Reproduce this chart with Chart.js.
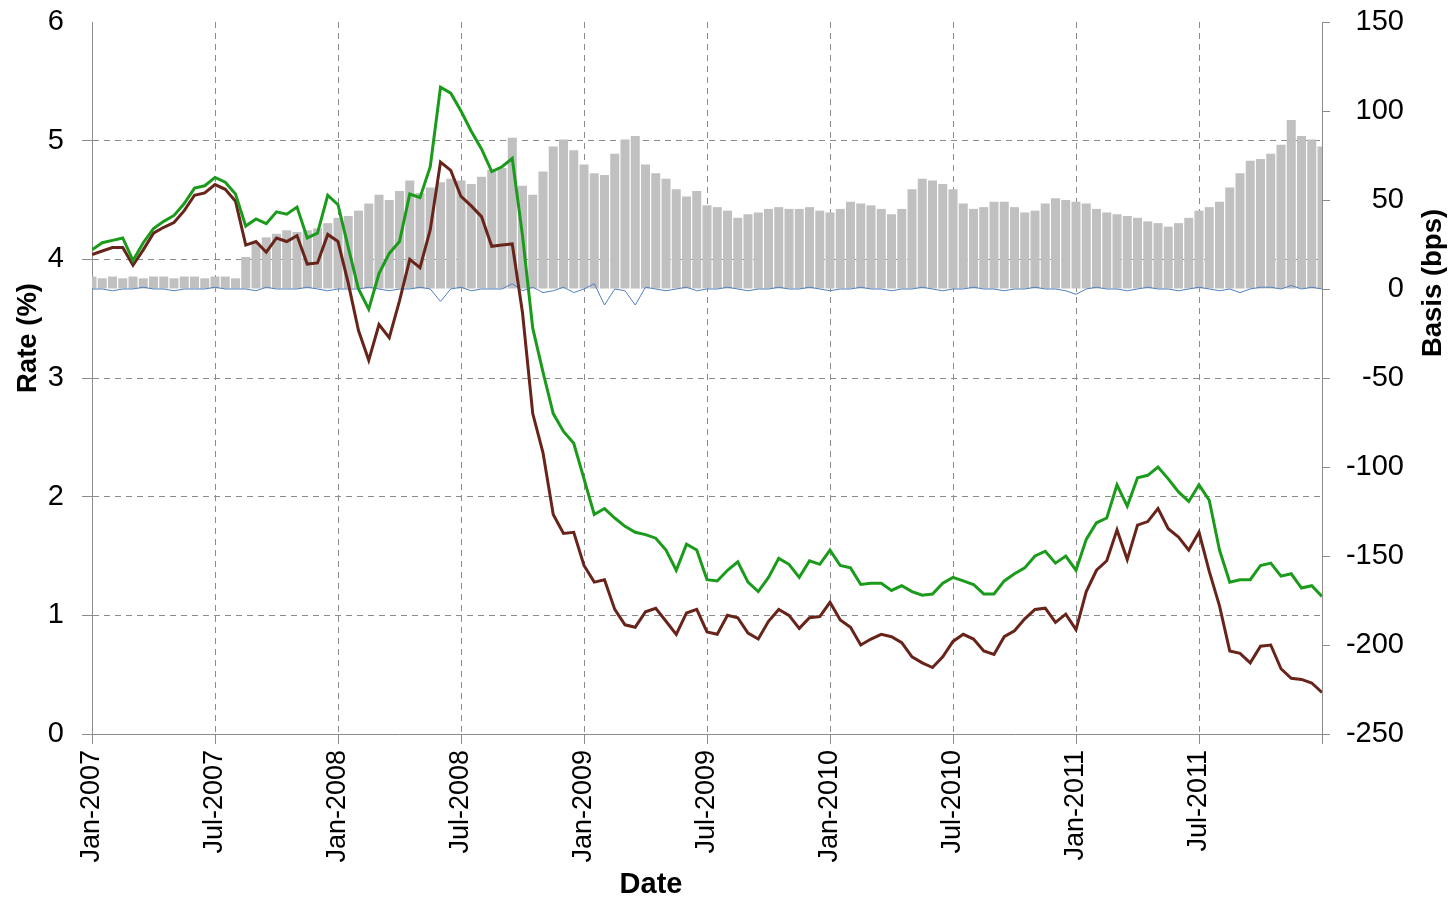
<!DOCTYPE html>
<html>
<head>
<meta charset="utf-8">
<script src="https://cdn.jsdelivr.net/npm/chart.js@4"></script>
<style>
  html, body { margin: 0; padding: 0; background: #fff; }
  canvas { display: block; }
</style>
</head>
<body>
<canvas id="chart" width="1454" height="899"></canvas>
<script>
// x labels every 6 months, x values are months since Jan-2007 (half-month steps)
const tickLabels = ["Jan-2007", "Jul-2007", "Jan-2008", "Jul-2008", "Jan-2009",
  "Jul-2009", "Jan-2010", "Jul-2010", "Jan-2011", "Jul-2011"];
const months = [];
for (let i = 0; i <= 120; i++) months.push(i / 2);

// rate (%) - green series
const green = [
  4.08, 4.14, 4.16, 4.18, 3.99, 4.14, 4.26, 4.32, 4.37, 4.47,
  4.60, 4.62, 4.69, 4.65, 4.55, 4.28, 4.34, 4.30, 4.40, 4.38,
  4.44, 4.18, 4.22, 4.54, 4.46, 4.10, 3.75, 3.58, 3.88, 4.05,
  4.15, 4.55, 4.52, 4.78, 5.45, 5.40, 5.25, 5.08, 4.93, 4.74,
  4.78, 4.85, 4.20, 3.42, 3.05, 2.70, 2.55, 2.45, 2.15, 1.85,
  1.90, 1.82, 1.75, 1.70, 1.68, 1.65, 1.55, 1.38, 1.60, 1.55,
  1.30, 1.29, 1.38, 1.45, 1.28, 1.20, 1.32, 1.48, 1.43, 1.32,
  1.46, 1.43, 1.55, 1.42, 1.40, 1.26, 1.27, 1.27, 1.21, 1.25,
  1.20, 1.17, 1.18, 1.27, 1.32, 1.29, 1.26, 1.18, 1.18, 1.29,
  1.35, 1.40, 1.50, 1.54, 1.44, 1.50, 1.38, 1.64, 1.78, 1.82,
  2.10, 1.92, 2.16, 2.18, 2.25, 2.15, 2.04, 1.96, 2.10, 1.97,
  1.55, 1.28, 1.30, 1.30, 1.42, 1.44, 1.33, 1.35, 1.23, 1.25,
  1.16
];

// rate (%) - brown series
const brown = [
  4.04, 4.07, 4.10, 4.10, 3.95, 4.08, 4.22, 4.27, 4.31, 4.41,
  4.54, 4.56, 4.63, 4.59, 4.49, 4.12, 4.15, 4.06, 4.18, 4.15,
  4.20, 3.96, 3.97, 4.21, 4.15, 3.80, 3.40, 3.15, 3.45, 3.34,
  3.65, 4.00, 3.93, 4.25, 4.82, 4.75, 4.53, 4.45, 4.36, 4.11,
  4.12, 4.13, 3.55, 2.70, 2.37, 1.85, 1.69, 1.70, 1.42, 1.28,
  1.30, 1.05, 0.92, 0.90, 1.03, 1.06, 0.95, 0.84, 1.02, 1.05,
  0.86, 0.84, 1.00, 0.98, 0.85, 0.80, 0.95, 1.05, 1.00, 0.89,
  0.98, 0.99, 1.11, 0.96, 0.90, 0.75, 0.80, 0.84, 0.82, 0.77,
  0.65, 0.60, 0.56, 0.65, 0.78, 0.84, 0.80, 0.70, 0.67, 0.82,
  0.87, 0.97, 1.05, 1.06, 0.94, 1.01, 0.88, 1.20, 1.38, 1.46,
  1.72, 1.47, 1.76, 1.79, 1.90, 1.73, 1.66, 1.55, 1.70, 1.37,
  1.08, 0.70, 0.68, 0.60, 0.74, 0.75, 0.55, 0.47, 0.46, 0.43,
  0.35
];

// basis (bps) - grey bars
const basis = [
  7, 6, 7, 6, 7, 6, 7, 7, 6, 7,
  7, 6, 7, 7, 6, 18, 26, 29, 31, 33,
  32, 33, 34, 37, 40, 41, 44, 48, 53, 50,
  55, 61, 54, 57, 60, 62, 61, 59, 63, 67,
  68, 85, 58, 53, 66, 80, 84, 78, 70, 65,
  64, 76, 84, 86, 70, 65, 62, 56, 52, 55,
  47, 46, 44, 40, 42, 43, 45, 46, 45, 45,
  46, 44, 43, 45, 49, 48, 47, 45, 42, 45,
  56, 62, 61, 59, 56, 48, 45, 46, 49, 49,
  46, 43, 44, 48, 51, 50, 49, 48, 45, 43,
  42, 41, 40, 38, 37, 35, 37, 40, 44, 46,
  49, 57, 65, 72, 73, 76, 81, 95, 86, 84,
  80
];

// basis (bps) - thin blue line around zero
const blue = [
  0, 0, -1, 0, 0, 1, 0, 0, -1, 0,
  0, 0, 1, 0, 0, 0, -1, 1, 0, 0,
  0, 1, 0, -1, 0, 0, 0, 1, 0, -1,
  0, 0, 1, 0, -7, 0, 1, -1, 0, 0,
  0, 3, -1, 1, -2, -1, 1, -2, 0, 3,
  -9, 0, -1, -9, 1, 0, -1, 0, 1, -1,
  0, 0, 1, 0, -1, 0, 0, 1, 0, 0,
  1, 0, -1, 0, 0, 1, 0, 0, -1, 0,
  0, 1, 0, -1, 0, 0, 1, 0, 0, -1,
  0, 0, 1, 0, 0, -1, -3, 0, 1, 0,
  0, -1, 0, 1, 0, 0, -1, 0, 1, 0,
  -1, 0, -2, 0, 1, 1, 0, 2, 0, 1,
  0
];

const FONT = "'Liberation Sans', Arial, sans-serif";
Chart.defaults.font.family = FONT;
Chart.defaults.font.size = 29;
Chart.defaults.color = "#000";

function pts(arr) {
  return months.map((m, i) => ({ x: m, y: arr[i] }));
}

// axis titles are not centred on the plot in the original, so draw them by hand
const axisTitles = {
  id: "axisTitles",
  afterDraw(chart) {
    const c = chart.ctx;
    c.save();
    c.fillStyle = "#000";
    c.textAlign = "center";
    c.textBaseline = "middle";
    c.font = "bold 29px " + FONT;
    c.fillText("Date", 651, 885);
    c.font = "bold 27.5px " + FONT;
    [["Rate (%)", 28, 338], ["Basis (bps)", 1433, 283]].forEach(([t, x, y]) => {
      c.save();
      c.translate(x, y);
      c.rotate(-Math.PI / 2);
      c.fillText(t, 0, 0);
      c.restore();
    });
    c.restore();
  }
};

const gridColor = "#8c8c8c";

// fixed axis sizes so the plot area sits where it does in the original
function fixY(width) {
  return s => { s.width = width; s.paddingTop = 0; s.paddingBottom = 0; };
}

new Chart(document.getElementById("chart").getContext("2d"), {
  type: "bar",
  data: {
    datasets: [
      { type: "line", label: "Green", data: pts(green), yAxisID: "y",
        borderColor: "#1b9b1b", borderWidth: 3, pointRadius: 0, order: 1 },
      { type: "line", label: "Brown", data: pts(brown), yAxisID: "y",
        borderColor: "#68241a", borderWidth: 3, pointRadius: 0, order: 2 },
      { type: "line", label: "Blue", data: pts(blue), yAxisID: "y2",
        borderColor: "#4f81bd", borderWidth: 1, pointRadius: 0, order: 3 },
      { type: "bar", label: "Basis", data: pts(basis), yAxisID: "y2",
        backgroundColor: "#c0c0c0", barPercentage: 1, categoryPercentage: 0.88, order: 4 }
    ]
  },
  options: {
    responsive: false,
    animation: false,
    devicePixelRatio: 1,
    layout: { padding: { top: 22, left: 0, right: 50, bottom: 0 } },
    plugins: { legend: { display: false }, tooltip: { enabled: false } },
    scales: {
      x: {
        type: "linear", min: 0, max: 60, offset: false,
        afterFit: s => { s.height = 165; },
        border: { color: gridColor, width: 1, dash: [6, 5] },
        grid: { offset: false, color: gridColor, lineWidth: 1, tickLength: 10, tickBorderDash: [] },
        ticks: {
          stepSize: 6, autoSkip: false, maxRotation: 90, minRotation: 90, padding: 6,
          font: { size: 27 },
          callback: v => (v % 6 === 0 && v / 6 < tickLabels.length) ? tickLabels[v / 6] : ""
        }
      },
      y: {
        position: "left", min: 0, max: 6,
        afterFit: fixY(92),
        border: { color: gridColor, width: 1, dash: [6, 5] },
        grid: {
          color: c => (c.tick && c.tick.value === 6) ? "rgba(0,0,0,0)" : gridColor,
          lineWidth: 1, tickLength: 10, tickBorderDash: []
        },
        ticks: { stepSize: 1, padding: 18 }
      },
      y2: {
        position: "right", min: -250, max: 150,
        afterFit: fixY(82),
        border: { color: gridColor, width: 1 },
        grid: { drawOnChartArea: false, color: gridColor, tickLength: 8 },
        ticks: { stepSize: 50, padding: 16, crossAlign: "far" }
      }
    }
  },
  plugins: [axisTitles]
});
</script>
</body>
</html>
